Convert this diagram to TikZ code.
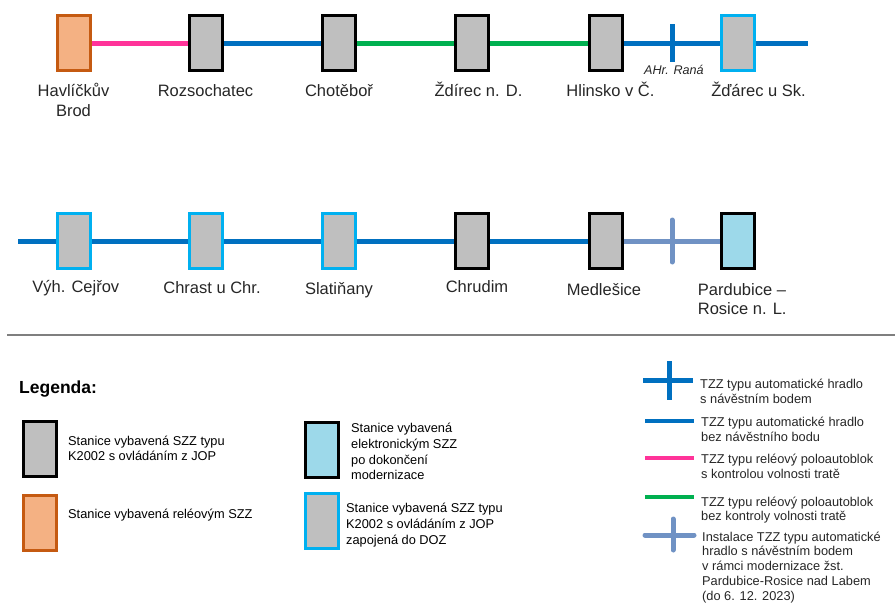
\documentclass[tikz,border=0pt]{standalone}
\usepackage{fontspec}
\setmainfont{Liberation Sans}
\definecolor{stgrey}{HTML}{BFBFBF}
\definecolor{orf}{HTML}{F4B183}
\definecolor{orb}{HTML}{C55A11}
\definecolor{lbf}{HTML}{9DD9EA}
\definecolor{cyanb}{HTML}{00B0F0}
\definecolor{blueL}{HTML}{0070C0}
\definecolor{pinkL}{HTML}{FF3399}
\definecolor{greenL}{HTML}{00B050}
\definecolor{steelL}{HTML}{7092C4}
\definecolor{labc}{HTML}{262626}
\definecolor{sepc}{HTML}{7F7F7F}
\newcommand\mlines[2][l]{\begin{tabular}[t]{@{}#1@{}}#2\end{tabular}}
\begin{document}
\begin{tikzpicture}[x=1pt,y=-1pt,
  sta/.style={draw, line width=3pt, minimum width=33pt, minimum height=55pt, inner sep=0pt, fill=stgrey},
  k2/.style={sta, draw=black},
  doz/.style={sta, draw=cyanb},
  rel/.style={sta, draw=orb, fill=orf},
  ele/.style={sta, draw=black, fill=lbf},
  trk/.style={line width=5pt},
  lgl/.style={line width=4pt},
  lab/.style={font=\fontsize{16.5}{19.5}\selectfont, text=labc, inner sep=0pt, anchor=base},
  labw/.style={lab, anchor=base west},
  leg/.style={font=\fontsize{12.8}{15.8}\selectfont, inner sep=0pt, anchor=base west},
  rleg/.style={font=\fontsize{12.8}{14.8}\selectfont, inner sep=0pt, anchor=base west, text=labc}]
\useasboundingbox (0,0) rectangle (895,605);
\clip (0,0) rectangle (895,605);

% ---------- top row ----------
\node[rel] (hb)  at (73.5,43) {};
\node[k2]  (roz) at (206,43) {};
\node[k2]  (cho) at (339,43) {};
\node[k2]  (zdi) at (472,43) {};
\node[k2]  (hli) at (605.5,43) {};
\node[doz] (zda) at (738,43) {};
\coordinate (tend) at (808,43);
\coordinate (ta) at (672,24);
\coordinate (tb) at (672,62);

\draw[trk, pinkL]  (hb.east) -- (roz.west);
\draw[trk, blueL]  (roz.east) -- (cho.west);
\draw[trk, greenL] (cho.east) -- (zdi.west);
\draw[trk, greenL] (zdi.east) -- (hli.west);
\draw[trk, blueL]  (hli.east) -- (zda.west);
\draw[trk, blueL]  (zda.east) -- (tend);
\draw[trk, blueL]  (ta) -- (tb);

\node[lab] (lhb)  at (73.5,96.8) {\mlines[c]{Havlíčkův\\Brod}};
\node[lab] (lroz) at (205.5,96.8) {Rozsochatec};
\node[lab] (lcho) at (339,96.8) {Chotěboř};
\node[lab] (lzdi) at (478.5,96.8) {Ždírec n. D.};
\node[lab] (lhli) at (610.5,96.8) {Hlinsko v Č.};
\node[lab] (lzda) at (758.5,96.8) {Žďárec u Sk.};
\node[font=\fontsize{12.6}{15}\selectfont\itshape, text=labc, inner sep=0pt, anchor=base] (lahr) at (674,74.7) {AHr. Raná};

% ---------- bottom row ----------
\node[doz] (vyh) at (73.5,241) {};
\node[doz] (chr) at (206,241) {};
\node[doz] (sla) at (339,241) {};
\node[k2]  (chu) at (472,241) {};
\node[k2]  (med) at (605.5,241) {};
\node[ele] (par) at (738,241) {};
\coordinate (bstart) at (18,241);
\coordinate (ba) at (672,220);
\coordinate (bb) at (672,262);

\draw[trk, blueL]  (bstart) -- (vyh.west);
\draw[trk, blueL]  (vyh.east) -- (chr.west);
\draw[trk, blueL]  (chr.east) -- (sla.west);
\draw[trk, blueL]  (sla.east) -- (chu.west);
\draw[trk, blueL]  (chu.east) -- (med.west);
\draw[trk, steelL] (med.east) -- (par.west);
\draw[trk, steelL, line cap=round] (ba) -- (bb);

\node[lab] (lvyh) at (75.8,292.5) {Výh. Cejřov};
\node[lab] (lchr) at (212,293.5) {Chrast u Chr.};
\node[lab] (lsla) at (339,294) {Slatiňany};
\node[lab] (lchu) at (477,292.5) {Chrudim};
\node[lab] (lmed) at (604,295) {Medlešice};
\node[labw] (lpar) at (697.7,295) {\mlines{Pardubice –\\Rosice n. L.}};

% ---------- separator ----------
\coordinate (sa) at (7,335);
\coordinate (sb) at (895,335);
\draw[sepc, line width=1.6pt] (sa) -- (sb);

% ---------- legend ----------
\node[font=\fontsize{17.5}{20}\selectfont\bfseries, inner sep=0pt, anchor=base west] (leg) at (19,393) {Legenda:};

\node[k2]  (lg1) at (40,448.5) {};
\node[rel, line width=2.6pt] (lg2) at (40,523) {};
\node[ele] (lg3) at (322,449.5) {};
\node[doz] (lg4) at (322,521) {};

\node[leg] (tg1) at (68,445) {\mlines{Stanice vybavená SZZ typu\\K2002 s ovládáním z JOP}};
\node[leg] (tg2) at (68,518.5) {Stanice vybavená reléovým SZZ};
\node[leg] (tg3) at (351,432.5) {\mlines{Stanice vybavená\\elektronickým SZZ\\po dokončení\\modernizace}};
\node[leg] (tg4) at (346,512.5) {\mlines{Stanice vybavená SZZ typu\\K2002 s ovládáním z JOP\\zapojená do DOZ}};

% right legend symbols
\coordinate (c1a) at (643,380); \coordinate (c1b) at (693,380);
\coordinate (c1c) at (669,361); \coordinate (c1d) at (669,400);
\draw[trk, blueL] (c1a) -- (c1b);
\draw[trk, blueL] (c1c) -- (c1d);

\coordinate (l2a) at (645,421); \coordinate (l2b) at (694,421);
\draw[lgl, blueL] (l2a) -- (l2b);
\coordinate (l3a) at (645,458); \coordinate (l3b) at (694,458);
\draw[lgl, pinkL] (l3a) -- (l3b);
\coordinate (l4a) at (645,497); \coordinate (l4b) at (694,497);
\draw[lgl, greenL] (l4a) -- (l4b);

\coordinate (c5a) at (645,535); \coordinate (c5b) at (694,535);
\coordinate (c5c) at (673,519); \coordinate (c5d) at (673,550);
\draw[trk, steelL, line cap=round] (c5a) -- (c5b);
\draw[trk, steelL, line cap=round] (c5c) -- (c5d);

\node[rleg] (rt1) at (700,388.5) {\mlines{TZZ typu automatické hradlo\\s návěstním bodem}};
\node[rleg] (rt2) at (701,426.5) {\mlines{TZZ typu automatické hradlo\\bez návěstního bodu}};
\node[rleg] (rt3) at (701,463.5) {\mlines{TZZ typu reléový poloautoblok\\s kontrolou volnosti tratě}};
\node[rleg] (rt4) at (701,506) {\mlines{TZZ typu reléový poloautoblok\\bez kontroly volnosti tratě}};
\node[rleg, font=\fontsize{12.8}{14.9}\selectfont] (rt5) at (702,541) {\mlines{Instalace TZZ typu automatické\\hradlo s návěstním bodem\\v rámci modernizace žst.\\Pardubice-Rosice nad Labem\\(do 6. 12. 2023)}};
\end{tikzpicture}
\end{document}
